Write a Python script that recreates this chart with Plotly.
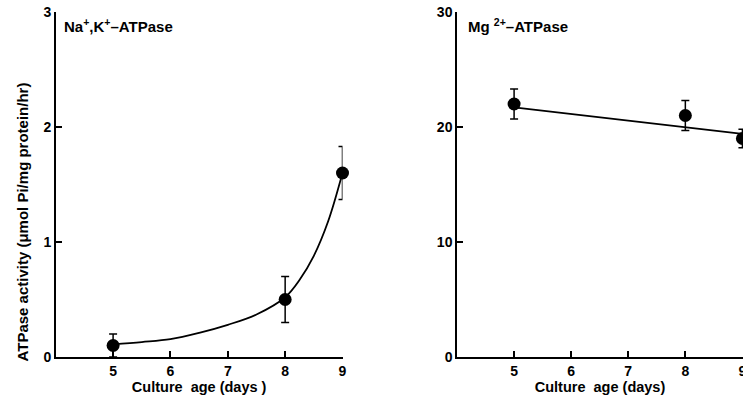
import plotly.graph_objects as go

# Data
days = [5, 8, 9]
nak_activity = [0.10, 0.50, 1.60]
nak_err = [0.10, 0.20, 0.23]
mg_activity = [22.0, 21.0, 19.0]
mg_err = [1.3, 1.3, 0.8]

# fitted curve points (left panel)
nak_fit_x = [5, 5.5, 6, 6.5, 7, 7.5, 8, 8.25, 8.5, 8.75, 9]
nak_fit_y = [0.11, 0.13, 0.155, 0.21, 0.28, 0.37, 0.52, 0.67, 0.88, 1.18, 1.6]
# regression line (right panel)
mg_fit_x = [5, 9]
mg_fit_y = [21.7, 19.4]

x_ticks = [5, 6, 7, 8, 9]
nak_yticks = [0, 1, 2, 3]
mg_yticks = [0, 10, 20, 30]

FONT = "Liberation Sans, Arial, sans-serif"
W, H = 743, 400

fig = go.Figure()
fig.add_trace(go.Scatter(x=nak_fit_x, y=nak_fit_y, mode="lines",
                         line=dict(color="black", width=1.8, shape="spline", smoothing=1.0),
                         xaxis="x", yaxis="y", showlegend=False, cliponaxis=False))
fig.add_trace(go.Scatter(x=days, y=nak_activity, mode="markers",
                         marker=dict(color="black", size=13),
                         error_y=dict(type="data", array=nak_err, color="black",
                                      thickness=1.5, width=4),
                         xaxis="x", yaxis="y", showlegend=False, cliponaxis=False))
fig.add_trace(go.Scatter(x=mg_fit_x, y=mg_fit_y, mode="lines",
                         line=dict(color="black", width=1.8),
                         xaxis="x2", yaxis="y2", showlegend=False, cliponaxis=False))
fig.add_trace(go.Scatter(x=days, y=mg_activity, mode="markers",
                         marker=dict(color="black", size=13),
                         error_y=dict(type="data", array=mg_err, color="black",
                                      thickness=1.5, width=4),
                         xaxis="x2", yaxis="y2", showlegend=False, cliponaxis=False))

tickfont = dict(family=FONT, size=14, color="black", weight="bold")
titlefont = dict(family=FONT, size=14.5, color="black", weight="bold")

axis_common = dict(showline=True, linecolor="black", linewidth=1.5,
                   ticks="inside", ticklen=6, tickwidth=1.5, tickcolor="black",
                   showgrid=False, zeroline=False, tickfont=tickfont,
                   automargin=False, ticklabeloverflow="allow")

y_dom = [(400 - 357) / H, (400 - 12) / H]

fig.update_layout(
    width=W, height=H,
    margin=dict(l=0, r=0, t=0, b=0, pad=0),
    paper_bgcolor="white", plot_bgcolor="white",
    xaxis=dict(domain=[55.75 / W, 342.5 / W], range=[4, 9], tickvals=x_ticks,
               anchor="y", title=dict(text="Culture  age (days )", standoff=3,
                                      font=titlefont),
               **axis_common),
    yaxis=dict(domain=y_dom, range=[0, 3], tickvals=nak_yticks, anchor="x",
               **axis_common),
    xaxis2=dict(domain=[457 / W, 1.0], range=[4, 9.01], tickvals=x_ticks,
                anchor="y2", title=dict(text="Culture  age (days)", standoff=3,
                                        font=titlefont),
                **axis_common),
    yaxis2=dict(domain=y_dom, range=[0, 30], tickvals=mg_yticks, anchor="x2",
                **axis_common),
    annotations=[
        dict(text="ATPase activity (μmol Pi/mg protein/hr)", textangle=-90,
             x=12 / W, y=(400 - 222) / H, xref="paper", yref="paper",
             showarrow=False, font=dict(family=FONT, size=15, color="black", weight="bold")),
        dict(text="Na<sup>+</sup>,K<sup>+</sup>–ATPase", x=62 / W, y=(400 - 25) / H,
             xref="paper", yref="paper", xanchor="left", yanchor="middle",
             showarrow=False, font=dict(family=FONT, size=15, color="black", weight="bold")),
        dict(text="Mg <sup>2+</sup>–ATPase", x=466 / W, y=(400 - 25) / H,
             xref="paper", yref="paper", xanchor="left", yanchor="middle",
             showarrow=False, font=dict(family=FONT, size=15, color="black", weight="bold")),
    ],
)

fig.write_html("out.html", config={"displayModeBar": False},
               post_script="document.body.style.margin='0';document.body.style.overflow='hidden';")
